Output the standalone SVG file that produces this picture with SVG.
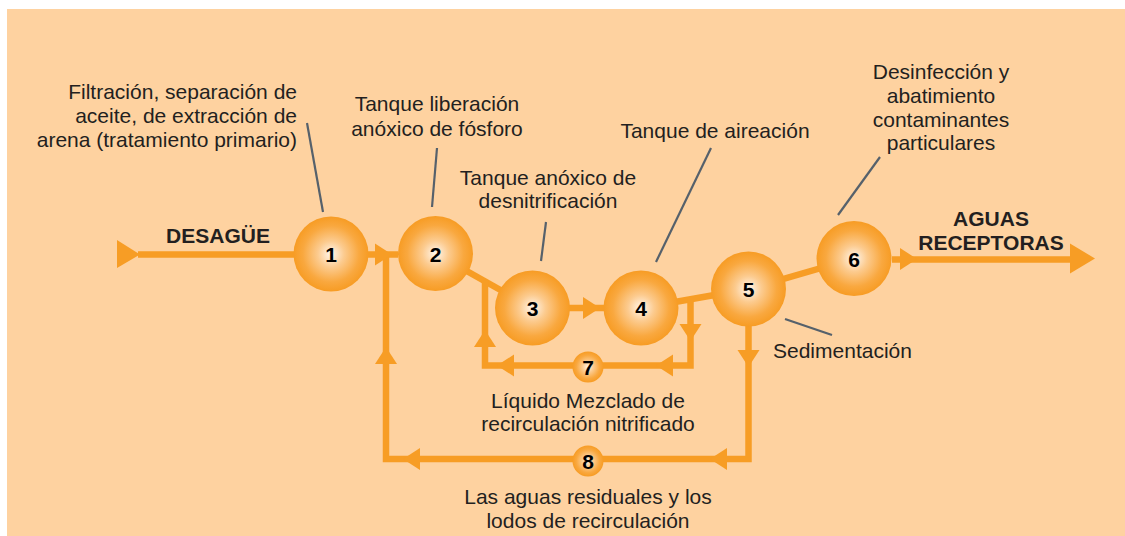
<svg xmlns="http://www.w3.org/2000/svg" xmlns:xlink="http://www.w3.org/1999/xlink" width="1125" height="536" viewBox="0 0 1125 536">
<style>
.t{font-family:"Liberation Sans",Arial,sans-serif;font-size:21px;fill:#231f20}
.b{font-family:"Liberation Sans",Arial,sans-serif;font-size:21px;font-weight:bold;fill:#231f20}
.n{font-family:"Liberation Sans",Arial,sans-serif;font-size:21px;font-weight:bold;fill:#000;text-anchor:middle}
.c{text-anchor:middle}
.e{text-anchor:end}
.flow{stroke:#f79d25;stroke-width:6.5;fill:none;stroke-linejoin:miter}
.ah{fill:#f79d25}
.lead{stroke:#56616b;stroke-width:2.2;fill:none}
</style>
<defs>
<radialGradient id="g" cx="0.5" cy="0.5" r="0.5">
<stop offset="0" stop-color="#fff7ee"/>
<stop offset="0.35" stop-color="#fccb8f"/>
<stop offset="0.75" stop-color="#f9a83f"/>
<stop offset="1" stop-color="#f79c24"/>
</radialGradient>
<path id="a" d="M0,0 L-17,-11 L-17,11 Z"/>
</defs>
<rect x="7" y="9" width="1118" height="527" fill="#fed2a0"/>
<g id="connectors">
<path class="flow" d="M138,254.5 L398,254.5"/>
<path class="flow" d="M435.5,253.5 L532.5,308"/>
<path class="flow" d="M532.5,308 L641,308"/>
<path class="flow" d="M641,308 L748.5,289"/>
<path class="flow" d="M748.5,289 L854,258.5"/>
<path class="flow" d="M892,259.5 L1072,259.5"/>
<path class="flow" d="M485,281 L485,365.5 L690.5,365.5 L690.5,299"/>
<path class="flow" d="M748.5,320 L748.5,459 L386,459 L386,254.5"/>
<polygon class="ah" points="140,254.5 117,240 117,268"/>
<use href="#a" class="ah" transform="translate(392,254.5)"/>
<use href="#a" class="ah" transform="translate(600,308)"/>
<use href="#a" class="ah" transform="translate(917,259)"/>
<polygon class="ah" points="1095,258.5 1070,243.5 1070,273.5"/>
<use href="#a" class="ah" transform="translate(485,330) rotate(-90)"/>
<use href="#a" class="ah" transform="translate(690.5,341) rotate(90)"/>
<use href="#a" class="ah" transform="translate(497,365.5) rotate(180)"/>
<use href="#a" class="ah" transform="translate(656,365.5) rotate(180)"/>
<use href="#a" class="ah" transform="translate(748.5,367) rotate(90)"/>
<use href="#a" class="ah" transform="translate(403,459) rotate(180)"/>
<use href="#a" class="ah" transform="translate(710,459) rotate(180)"/>
<use href="#a" class="ah" transform="translate(386,347) rotate(-90)"/>
</g>
<g id="leaders">
<path class="lead" d="M307,123 L323,212"/>
<path class="lead" d="M437,148 L432,207"/>
<path class="lead" d="M546,222 L541,261"/>
<path class="lead" d="M711,148 L656,262"/>
<path class="lead" d="M880,157 L838,215"/>
<path class="lead" d="M785,319 L832,335"/>
</g>
<g id="node1"><circle cx="331" cy="254" r="37.5" fill="url(#g)"/><text class="n" x="331" y="262">1</text></g>
<g id="node2"><circle cx="435.5" cy="253.5" r="37.5" fill="url(#g)"/><text class="n" x="435.5" y="261.5">2</text></g>
<g id="node3"><circle cx="532.5" cy="308" r="37.5" fill="url(#g)"/><text class="n" x="532.5" y="316">3</text></g>
<g id="node4"><circle cx="641" cy="308" r="37.5" fill="url(#g)"/><text class="n" x="641" y="316">4</text></g>
<g id="node5"><circle cx="748.5" cy="289" r="37.5" fill="url(#g)"/><text class="n" x="748.5" y="297">5</text></g>
<g id="node6"><circle cx="854" cy="258.5" r="37.5" fill="url(#g)"/><text class="n" x="854" y="266.5">6</text></g>
<g id="node7"><circle cx="588" cy="367" r="15.5" fill="url(#g)"/><text class="n" x="588" y="375">7</text></g>
<g id="node8"><circle cx="588" cy="461" r="15.5" fill="url(#g)"/><text class="n" x="588" y="469">8</text></g>
<g id="labels">
<text class="t e" x="297" y="99">Filtración, separación de</text>
<text class="t e" x="297" y="123">aceite, de extracción de</text>
<text class="t e" x="297" y="147">arena (tratamiento primario)</text>
<text class="t c" x="437" y="111">Tanque liberación</text>
<text class="t c" x="437" y="135.5">anóxico de fósforo</text>
<text class="t c" x="548" y="185">Tanque anóxico de</text>
<text class="t c" x="548" y="208">desnitrificación</text>
<text class="t c" x="715" y="138">Tanque de aireación</text>
<text class="t c" x="941" y="79">Desinfección y</text>
<text class="t c" x="941" y="103">abatimiento</text>
<text class="t c" x="941" y="127">contaminantes</text>
<text class="t c" x="941" y="150">particulares</text>
<text class="t" x="773" y="358">Sedimentación</text>
<text class="t c" x="588" y="408">Líquido Mezclado de</text>
<text class="t c" x="588" y="431">recirculación nitrificado</text>
<text class="t c" x="588" y="504">Las aguas residuales y los</text>
<text class="t c" x="588" y="528">lodos de recirculación</text>
<text class="b c" x="218" y="243">DESAGÜE</text>
<text class="b c" x="991" y="226">AGUAS</text>
<text class="b c" x="991" y="250">RECEPTORAS</text>
</g>
</svg>
